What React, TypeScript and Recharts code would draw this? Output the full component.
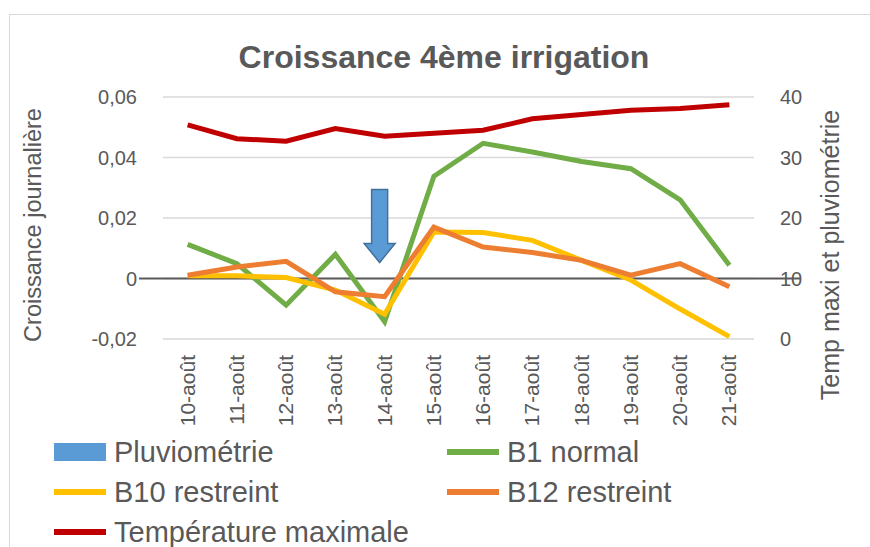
import React from 'react';
import {
  ComposedChart,
  Line,
  Bar,
  XAxis,
  YAxis,
  CartesianGrid,
  ReferenceLine,
  ReferenceDot,
} from 'recharts';

const categories = [
  '10-août', '11-août', '12-août', '13-août', '14-août', '15-août',
  '16-août', '17-août', '18-août', '19-août', '20-août', '21-août',
];
const pluviometrie = [0, 0, 0, 0, 0, 0, 0, 0, 0, 0, 0, 0];
const b1Normal = [0.0113, 0.0049, -0.0088, 0.008, -0.0143, 0.0338, 0.0447, 0.0418, 0.0387, 0.0363, 0.026, 0.0044];
const b10Restreint = [0.0009, 0.0009, 0.0003, -0.0038, -0.0118, 0.0154, 0.0152, 0.0126, 0.006, -0.0005, -0.0101, -0.0192];
const b12Restreint = [0.0011, 0.0038, 0.0057, -0.0044, -0.006, 0.017, 0.0104, 0.0086, 0.006, 0.0011, 0.0049, -0.0027];
const tempMax = [35.4, 33.1, 32.7, 34.8, 33.5, 34.0, 34.5, 36.4, 37.1, 37.8, 38.1, 38.7];

const leftTicks = [-0.02, 0, 0.02, 0.04, 0.06];
const rightTicks = [0, 10, 20, 30, 40];

// arrow annotation, pointing down at the 14-août value
const arrowAt = '14-août';
const arrowTip = 0.0053;

const data = categories.map((day, i) => ({
  day,
  pluvio: pluviometrie[i],
  b1: b1Normal[i],
  b10: b10Restreint[i],
  b12: b12Restreint[i],
  temp: tempMax[i],
}));

const FONT = '"Liberation Sans", Arial, sans-serif';
const TXT = '#595959';

const legendItems = [
  { name: 'Pluviométrie', color: '#5B9BD5', kind: 'bar' },
  { name: 'B1 normal', color: '#70AD47', kind: 'line' },
  { name: 'B10 restreint', color: '#FFC000', kind: 'line' },
  { name: 'B12 restreint', color: '#ED7D31', kind: 'line' },
  { name: 'Température maximale', color: '#C00000', kind: 'line' },
];

const fmtLeft = (v: number) => (v === 0 ? '0' : v.toFixed(2).replace('.', ','));

const DateTick = (props: any) => {
  const { x, y, payload } = props;
  return (
    <text
      x={x}
      y={y}
      transform={`rotate(-90, ${x}, ${y})`}
      textAnchor="end"
      dy={7}
      fontSize={21}
      fill={TXT}
      fontFamily={FONT}
    >
      {payload.value}
    </text>
  );
};

const Arrow = (props: any) => {
  const { cx, cy } = props;
  const x = cx - 5;
  const pts = [
    [x - 8, cy - 73],
    [x + 8, cy - 73],
    [x + 8, cy - 19],
    [x + 15.5, cy - 19],
    [x, cy],
    [x - 15.5, cy - 19],
    [x - 8, cy - 19],
  ]
    .map((p) => p.join(','))
    .join(' ');
  return <polygon points={pts} fill="#5B9BD5" stroke="#41719C" strokeWidth={1.5} />;
};

const ZeroLine = (props: any) => {
  const { x1, x2, y1 } = props;
  return <line x1={x1 - 24} x2={x2 + 46} y1={y1} y2={y1} stroke="#595959" strokeWidth={2} />;
};

function ChartLegend() {
  return (
    <div style={{ position: 'absolute', left: 54, top: 432, width: 760, height: 120, fontFamily: FONT, color: TXT, fontSize: 29 }}>
      {legendItems.map((it, i) => {
        const col = i % 2;
        const row = Math.floor(i / 2);
        return (
          <div
            key={it.name}
            style={{
              position: 'absolute',
              left: col * 393,
              top: row * 40,
              height: 40,
              display: 'flex',
              alignItems: 'center',
              whiteSpace: 'nowrap',
            }}
          >
            <span
              style={{
                display: 'inline-block',
                width: 52,
                height: it.kind === 'bar' ? 18 : 6,
                background: it.color,
                marginRight: 8,
              }}
            />
            {it.name}
          </div>
        );
      })}
    </div>
  );
}

export default function App() {
  return (
    <div style={{ position: 'fixed', left: 0, top: 0, width: 870, height: 547, overflow: 'hidden', background: '#fff' }}>
      <div
        style={{
          position: 'absolute',
          left: 9,
          top: 14,
          width: 900,
          height: 600,
          border: '1.5px solid #D9D9D9',
        }}
      />
      <div
        style={{
          position: 'absolute',
          left: 0,
          top: 39,
          width: 888,
          textAlign: 'center',
          fontFamily: FONT,
          fontWeight: 'bold',
          fontSize: 32,
          color: TXT,
          lineHeight: '36px',
        }}
      >
        Croissance 4ème irrigation
      </div>
      <div
        style={{
          position: 'absolute',
          left: 33,
          top: 225,
          transform: 'translate(-50%, -50%) rotate(-90deg)',
          whiteSpace: 'nowrap',
          fontFamily: FONT,
          fontSize: 23.5,
          color: TXT,
        }}
      >
        Croissance journalière
      </div>
      <div
        style={{
          position: 'absolute',
          left: 830,
          top: 255,
          transform: 'translate(-50%, -50%) rotate(-90deg)',
          whiteSpace: 'nowrap',
          fontFamily: FONT,
          fontSize: 25,
          color: TXT,
        }}
      >
        Temp maxi et pluviométrie
      </div>
      <ComposedChart
        width={870}
        height={547}
        data={data}
        margin={{ top: 97, right: 36, bottom: 108, left: 83 }}
        style={{ position: 'absolute', left: 0, top: 0 }}
      >
        <CartesianGrid yAxisId="left" vertical={false} stroke="#D9D9D9" strokeWidth={1.5} />
        <XAxis
          dataKey="day"
          axisLine={false}
          tickLine={false}
          tickSize={0}
          tickMargin={16}
          interval={0}
          height={100}
          tick={<DateTick />}
        />
        <YAxis
          yAxisId="left"
          width={80}
          domain={[-0.02, 0.06]}
          ticks={leftTicks}
          tickFormatter={fmtLeft}
          axisLine={false}
          tickLine={false}
          tickSize={0}
          tickMargin={26}
          tick={{ fontSize: 20, fill: TXT, fontFamily: FONT }}
        />
        <YAxis
          yAxisId="right"
          orientation="right"
          width={80}
          domain={[0, 40]}
          ticks={rightTicks}
          axisLine={false}
          tickLine={false}
          tickSize={0}
          tickMargin={26}
          tick={{ fontSize: 20, fill: TXT, fontFamily: FONT, textAnchor: 'start' }}
        />
        <Bar yAxisId="right" dataKey="pluvio" name="Pluviométrie" fill="#5B9BD5" isAnimationActive={false} />
        <ReferenceLine yAxisId="left" y={0} shape={<ZeroLine />} />
        <Line yAxisId="left" dataKey="b1" name="B1 normal" stroke="#70AD47" strokeWidth={5} dot={false} isAnimationActive={false} />
        <Line yAxisId="left" dataKey="b10" name="B10 restreint" stroke="#FFC000" strokeWidth={5} dot={false} isAnimationActive={false} />
        <Line yAxisId="left" dataKey="b12" name="B12 restreint" stroke="#ED7D31" strokeWidth={5} dot={false} isAnimationActive={false} />
        <Line yAxisId="right" dataKey="temp" name="Température maximale" stroke="#C00000" strokeWidth={5} dot={false} isAnimationActive={false} />
        <ReferenceDot yAxisId="left" x={arrowAt} y={arrowTip} shape={<Arrow />} />
      </ComposedChart>
      <ChartLegend />
    </div>
  );
}
